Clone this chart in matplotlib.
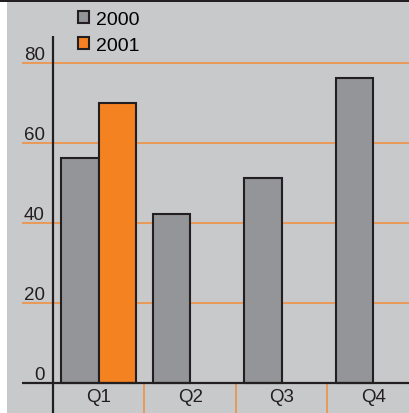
import matplotlib
matplotlib.use('Agg')
import matplotlib.pyplot as plt
from matplotlib.patches import Patch, Rectangle

# Data
quarters = ['Q1', 'Q2', 'Q3', 'Q4']
sales_2000 = [56.3, 42.1, 51.2, 76.3]
sales_2001 = [70.0, None, None, None]
yticks = [0, 20, 40, 60, 80]

gray = '#939598'
orange = '#F58220'
grid_orange = '#F28C38'
bg = '#C8C9CB'
edge = '#231F20'
sans = ['Liberation Sans', 'DejaVu Sans']

W, H = 410, 414
fig = plt.figure(figsize=(W / 100, H / 100), dpi=100, facecolor=bg)

# white strip on left, black strip on top
fig.patches.append(Rectangle((0, 0), 7 / W, 1, transform=fig.transFigure,
                             facecolor='white', edgecolor='none', zorder=0))
fig.patches.append(Rectangle((0, 1 - 3 / H), 1, 3 / H, transform=fig.transFigure,
                             facecolor='#231F20', edgecolor='none', zorder=0))

# axes spans x pixels 22..410, y pixels 37..414 (from top)
ax = fig.add_axes([22 / W, 0, 1 - 22 / W, (H - 37) / H])
ax.set_facecolor('none')
cat_w = 91.5
ax.set_xlim((22 - 53) / cat_w, (410 - 53) / cat_w)
px = 79.9 / 20
ax.set_ylim(-(414 - 383.6) / px, (383.6 - 37) / px)
for s in ax.spines.values():
    s.set_visible(False)
ax.set_xticks([])
ax.set_yticks([])

# gridlines
for t in yticks[1:]:
    ax.axhline(t, color=grid_orange, lw=1.1, zorder=1)
ax.axhline(0, color=edge, lw=1.6, zorder=4)
ax.axvline(0, color=edge, lw=1.6, zorder=4)

# bars
bw = 0.41
for i, q in enumerate(quarters):
    ax.bar(i + 0.5 - bw / 2, sales_2000[i], width=bw, color=gray,
           edgecolor=edge, linewidth=1.5, zorder=3)
    if sales_2001[i] is not None:
        ax.bar(i + 0.5 + bw / 2, sales_2001[i], width=bw, color=orange,
               edgecolor=edge, linewidth=1.5, zorder=3)
    ax.text(i + 0.5, -3.5, q, ha='center', va='center', fontsize=13.5,
            family=sans, color='#231F20')
    if i > 0:
        ax.plot([i, i], [0, ax.get_ylim()[0]], color=grid_orange, lw=1.1, zorder=2)

# y tick labels sitting above the lines
for t in yticks:
    ax.text(-8 / cat_w, t + 1.0, str(t), ha='right', va='baseline',
            fontsize=13.5, family=sans, color='#231F20')

handles = [Patch(facecolor=gray, edgecolor=edge, linewidth=1.5, label='2000'),
           Patch(facecolor=orange, edgecolor=edge, linewidth=1.5, label='2001')]
fig.legend(handles=handles, loc='upper left', bbox_to_anchor=(78 / W, 1 - 12 / H),
           frameon=False, prop={'family': sans, 'size': 14},
           handlelength=0.55, handleheight=0.55,
           handletextpad=0.4, labelspacing=0.45, borderpad=0, borderaxespad=0)

fig.savefig('out.png', dpi=100, facecolor=bg)
